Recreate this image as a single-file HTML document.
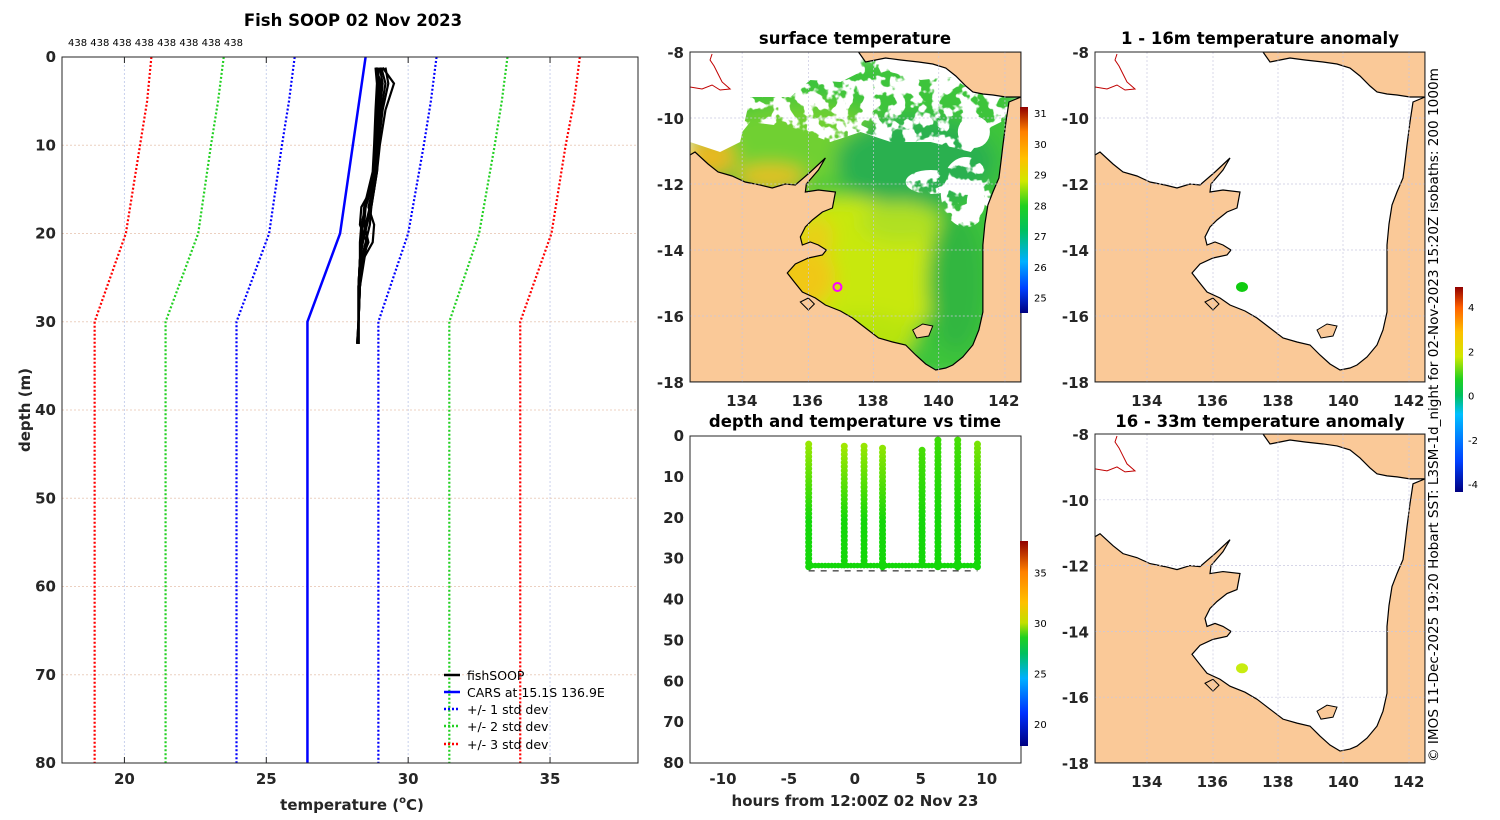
<!DOCTYPE html>
<html><head><meta charset="utf-8">
<style>
body{margin:0;background:#fff;}
svg{display:block;font-family:"DejaVu Sans","Liberation Sans",sans-serif;}
.t{font-weight:bold;font-size:15px;fill:#262626;}
.tt{font-weight:bold;font-size:16.5px;fill:#000;}
.s{font-size:10px;fill:#000;}
.lg{font-size:12.5px;fill:#000;}
</style></head>
<body>
<svg id="fig" width="1500" height="820" viewBox="0 0 1500 820">
<defs>
  <clipPath id="cpL"><rect x="62" y="57" width="576" height="706"/></clipPath>
  <clipPath id="cpM"><rect x="0" y="0" width="330" height="330"/></clipPath>
  <filter id="blur" x="-20%" y="-20%" width="140%" height="140%"><feGaussianBlur stdDeviation="9"/></filter>
  <filter id="clouds" x="0" y="0" width="100%" height="100%" filterUnits="userSpaceOnUse">
    <feTurbulence type="fractalNoise" baseFrequency="0.07" numOctaves="3" seed="5" result="n"/>
    <feColorMatrix in="n" type="matrix" values="0 0 0 0 1  0 0 0 0 1  0 0 0 0 1  -14 0 0 0 7.8" result="w"/>
    <feComposite in="w" in2="SourceGraphic" operator="in"/>
  </filter>
  <linearGradient id="cbT" x1="0" y1="1" x2="0" y2="0">
    <stop offset="0" stop-color="#000080"/><stop offset="0.16" stop-color="#0030ff"/>
    <stop offset="0.33" stop-color="#00b0ff"/><stop offset="0.45" stop-color="#00c060"/>
    <stop offset="0.53" stop-color="#20d020"/><stop offset="0.60" stop-color="#c0e000"/>
    <stop offset="0.70" stop-color="#ffc000"/><stop offset="0.85" stop-color="#ff8000"/>
    <stop offset="1" stop-color="#900000"/>
  </linearGradient>
  <linearGradient id="cbS" x1="0" y1="1" x2="0" y2="0">
    <stop offset="0" stop-color="#000080"/><stop offset="0.12" stop-color="#0040ff"/>
    <stop offset="0.25" stop-color="#00b0ff"/><stop offset="0.4" stop-color="#00c060"/>
    <stop offset="0.52" stop-color="#20d020"/><stop offset="0.64" stop-color="#d0e800"/>
    <stop offset="0.75" stop-color="#ffc000"/><stop offset="0.88" stop-color="#ff8000"/>
    <stop offset="1" stop-color="#900000"/>
  </linearGradient>
  <linearGradient id="cbA" x1="0" y1="1" x2="0" y2="0">
    <stop offset="0" stop-color="#000080"/><stop offset="0.15" stop-color="#0040ff"/>
    <stop offset="0.38" stop-color="#00c0ff"/><stop offset="0.47" stop-color="#00c060"/>
    <stop offset="0.55" stop-color="#20d020"/><stop offset="0.66" stop-color="#d0e800"/>
    <stop offset="0.78" stop-color="#ffc000"/><stop offset="0.9" stop-color="#ff6000"/>
    <stop offset="1" stop-color="#900000"/>
  </linearGradient>
  <g id="land">
    <path fill="#fac998" stroke="#000" stroke-width="1.2" d="M0,103 L5,100 L18,112 L28,120 L42,124 L55,130 L70,133 L82,136 L95,132 L105,133 L120,120 L135,106 L128,118 L116,132 L115,140 L128,138 L145,140 L142,156 L132,160 L122,168 L115,175 L110,185 L112,193 L120,190 L128,193 L136,198 L132,203 L118,206 L105,212 L97,221 L104,230 L112,240 L125,246 L135,253 L150,259 L162,266 L175,276 L188,286 L202,290 L215,293 L222,300 L225,303 L235,312 L245,318 L255,316 L262,313 L272,305 L282,293 L288,278 L292,260 L292,230 L292,193 L294,172 L297,153 L302,140 L308,126 L310,110 L312,93 L315,70 L318,50 L330,45 L330,330 L0,330 Z"/>
    <path fill="#fac998" stroke="#000" stroke-width="1.2" d="M168,0 L175,10 L185,8 L195,6 L210,8 L228,10 L242,12 L255,16 L265,24 L275,34 L282,40 L292,42 L302,43 L315,45 L330,45 L330,0 Z"/>
    <path fill="#fac998" stroke="#000" stroke-width="1" d="M222,278 L232,272 L242,274 L238,284 L226,286 Z"/>
    <path fill="#fac998" stroke="#000" stroke-width="1" d="M110,250 L118,246 L124,252 L118,258 Z"/>
    <path fill="none" stroke="#c00000" stroke-width="1" d="M0,35 L12,37 L22,33 L30,38 L40,37 L32,30 L28,22 L24,14 L20,8 L22,2"/>
  </g>
  <g id="grid">
    <g stroke="#c8c8e0" stroke-width="0.7" stroke-dasharray="2,2">
      <line x1="52" y1="0" x2="52" y2="330"/><line x1="118" y1="0" x2="118" y2="330"/>
      <line x1="183" y1="0" x2="183" y2="330"/><line x1="248" y1="0" x2="248" y2="330"/>
      <line x1="314" y1="0" x2="314" y2="330"/>
      <line x1="0" y1="66" x2="330" y2="66"/><line x1="0" y1="132" x2="330" y2="132"/>
      <line x1="0" y1="198" x2="330" y2="198"/><line x1="0" y1="264" x2="330" y2="264"/>
    </g>
  </g>
</defs>

<!-- ============ LEFT PROFILE ============ -->
<g>
  <text class="tt" x="353" y="26" text-anchor="middle">Fish SOOP 02 Nov 2023</text>
  <text class="s" x="68" y="46">438 438 438 438 438 438 438 438</text>
  <rect x="62" y="57" width="576" height="706" fill="#fff"/>
  <g id="lgrid"></g>
  <g id="lstd" clip-path="url(#cpL)"></g>
  <g id="lfish" clip-path="url(#cpL)"></g>
  <rect x="62" y="57" width="576" height="706" fill="none" stroke="#262626" stroke-width="1"/>
  <g id="lticks" class="t"></g>
  <text class="t" x="352" y="810" text-anchor="middle" font-size="16">temperature (<tspan font-size="10" dy="-7">o</tspan><tspan dy="7">C)</tspan></text>
  <text class="t" x="30" y="410" text-anchor="middle" font-size="16" transform="rotate(-90 30 410)">depth (m)</text>
  <g>
    <g><line x1="444" y1="675" x2="460" y2="675" stroke="#000" stroke-width="2.5"/><text class="lg" x="467" y="680">fishSOOP</text></g>
    <g><line x1="444" y1="692" x2="460" y2="692" stroke="#0000ff" stroke-width="2.5"/><text class="lg" x="467" y="697">CARS at 15.1S 136.9E</text></g>
    <g><line x1="444" y1="709" x2="460" y2="709" stroke="#0000ff" stroke-width="2.5" stroke-dasharray="2,2"/><text class="lg" x="467" y="714">+/- 1 std dev</text></g>
    <g><line x1="444" y1="726" x2="460" y2="726" stroke="#22d022" stroke-width="2.5" stroke-dasharray="2,2"/><text class="lg" x="467" y="731">+/- 2 std dev</text></g>
    <g><line x1="444" y1="744" x2="460" y2="744" stroke="#ff0000" stroke-width="2.5" stroke-dasharray="2,2"/><text class="lg" x="467" y="749">+/- 3 std dev</text></g>
  </g>
</g>

<!-- ============ SST MAP ============ -->
<g>
  <text class="tt" x="855" y="44" text-anchor="middle">surface temperature</text>
  <g transform="translate(690,52) scale(1.003,1)">
    <g clip-path="url(#cpM)">
      <rect width="330" height="330" fill="#fff"/>
      <g filter="url(#blur)">
        <rect x="0" y="0" width="330" height="330" fill="#3cc43a"/>
        <ellipse cx="110" cy="90" rx="90" ry="40" fill="#70d030"/>
        <ellipse cx="150" cy="220" rx="110" ry="75" fill="#c8e810"/>
        <ellipse cx="170" cy="285" rx="55" ry="25" fill="#b8e410"/>
        <ellipse cx="105" cy="225" rx="40" ry="35" fill="#f0c818"/>
        <ellipse cx="125" cy="185" rx="18" ry="20" fill="#e8d018"/>
        <ellipse cx="20" cy="105" rx="25" ry="20" fill="#e8b820"/>
        <ellipse cx="80" cy="125" rx="35" ry="12" fill="#e8c020"/>
        <ellipse cx="225" cy="110" rx="80" ry="45" fill="#2cb050"/>
        <ellipse cx="265" cy="230" rx="28" ry="70" fill="#30b640"/>
        <ellipse cx="210" cy="170" rx="40" ry="20" fill="#b0e020"/>
      </g>
      <g filter="url(#clouds)">
        <path d="M0,0 L330,0 L330,60 L300,75 L280,100 L240,90 L200,90 L170,80 L140,90 L100,75 L60,70 L40,95 L0,90 Z" fill="#000"/>
        <ellipse cx="275" cy="140" rx="25" ry="35" fill="#000"/>
        <ellipse cx="240" cy="130" rx="25" ry="12" fill="#000"/>
      </g>
      <g fill="#fff">
        <path d="M0,0 L170,0 L170,20 L150,30 L120,28 L100,45 L60,45 L50,90 L30,100 L0,90 Z"/>
        <path d="M185,0 L330,0 L330,40 L300,42 L280,38 L260,25 L230,28 L200,20 Z"/>
        <ellipse cx="283" cy="80" rx="16" ry="16"/>
        <ellipse cx="285" cy="150" rx="9" ry="15"/>
      </g>
      <use href="#land"/>
      <use href="#grid"/>
      <circle cx="147" cy="235" r="4" fill="none" stroke="#ff00ff" stroke-width="2"/>
    </g>
    <rect width="330" height="330" fill="none" stroke="#262626"/>
  </g>
  <rect x="1020" y="107" width="8" height="206" fill="url(#cbS)"/>
  <g id="cbSticks" class="s" font-size="12.5"></g>
  <g id="mapTicks1" class="t"></g>
</g>

<!-- ============ ANOMALY MAP 1 ============ -->
<g>
  <text class="tt" x="1260" y="44" text-anchor="middle">1 - 16m temperature anomaly</text>
  <g transform="translate(1095,52)">
    <g clip-path="url(#cpM)"><rect width="330" height="330" fill="#fff"/><use href="#land"/><use href="#grid"/>
      <ellipse cx="147" cy="235" rx="6" ry="5" fill="#10cc10"/></g>
    <rect width="330" height="330" fill="none" stroke="#262626"/>
  </g>
  <g id="mapTicks2" class="t"></g>
</g>

<!-- ============ ANOMALY MAP 2 ============ -->
<g>
  <text class="tt" x="1260" y="427" text-anchor="middle">16 - 33m temperature anomaly</text>
  <g transform="translate(1095,434) scale(1,0.997)">
    <g clip-path="url(#cpM)"><rect width="330" height="330" fill="#fff"/><use href="#land"/><use href="#grid"/>
      <ellipse cx="147" cy="235" rx="6" ry="5" fill="#c8ec10"/></g>
    <rect width="330" height="330" fill="none" stroke="#262626"/>
  </g>
  <g id="mapTicks3" class="t"></g>
  <rect x="1455" y="287" width="8" height="205" fill="url(#cbA)"/>
  <g id="cbAticks" class="s" font-size="12.5"></g>
  <text x="1438" y="762" font-size="13.6" transform="rotate(-90 1438 762)">© IMOS 11-Dec-2025 19:20 Hobart SST: L3SM-1d_night for 02-Nov-2023 15:20Z isobaths: 200  1000m</text>
</g>

<!-- ============ TIME SERIES ============ -->
<g>
  <text class="tt" x="855" y="427" text-anchor="middle">depth and temperature vs time</text>
  <rect x="690" y="436" width="331" height="327" fill="#fff" stroke="#262626"/>
  <g id="tsdots"></g>
  <g id="tsticks" class="t"></g>
  <text class="t" x="855" y="806" text-anchor="middle" font-size="16">hours from 12:00Z 02 Nov 23</text>
  <rect x="1020" y="541" width="8" height="205" fill="url(#cbT)"/>
  <g id="cbTticks" class="s" font-size="12.5"></g>
</g>
</svg>

<script>
// ---------- data ----------
const xTicks = [20, 25, 30, 35];
const yTicks = [0, 10, 20, 30, 40, 50, 60, 70, 80];
const carsDepth = [0, 20, 30, 80];
const carsTemp  = [28.5, 27.6, 26.45, 26.45];
const stdDepth = [0, 5, 10, 20, 30, 80];
const std1Lo = [26.0, 25.8, 25.55, 25.1, 23.95, 23.95];
const std1Hi = [31.0, 30.8, 30.55, 30.0, 28.95, 28.95];
const std2Lo = [23.5, 23.3, 23.05, 22.6, 21.45, 21.45];
const std2Hi = [33.5, 33.3, 33.05, 32.5, 31.45, 31.45];
const std3Lo = [20.95, 20.8, 20.55, 20.05, 18.95, 18.95];
const std3Hi = [36.05, 35.85, 35.55, 35.05, 33.95, 33.95];
const fishDepth = [1.2, 3, 6, 10, 13, 15, 17, 19, 21, 23, 26, 30, 32.5];
const fishCasts = [
  [28.95, 28.95, 28.9, 28.85, 28.8, 28.7, 28.5, 28.35, 28.3, 28.3, 28.25, 28.25, 28.25],
  [29.0, 29.1, 29.0, 28.9, 28.85, 28.8, 28.7, 28.55, 28.4, 28.3, 28.25, 28.25, 28.2],
  [29.2, 29.3, 29.1, 28.95, 28.9, 28.8, 28.65, 28.5, 28.4, 28.3, 28.25, 28.25, 28.2],
  [28.85, 29.05, 29.0, 28.9, 28.85, 28.7, 28.35, 28.3, 28.55, 28.45, 28.3, 28.25, 28.25],
  [29.1, 29.5, 29.2, 29.0, 28.9, 28.8, 28.7, 28.65, 28.5, 28.35, 28.3, 28.25, 28.25],
  [28.85, 28.9, 28.85, 28.8, 28.75, 28.6, 28.45, 28.4, 28.35, 28.3, 28.25, 28.25, 28.25],
  [29.05, 29.2, 29.05, 28.95, 28.9, 28.75, 28.6, 28.8, 28.75, 28.4, 28.3, 28.25, 28.25],
  [28.9, 29.0, 28.95, 28.9, 28.8, 28.65, 28.5, 28.45, 28.6, 28.35, 28.3, 28.25, 28.25]
];
const castHours = [-3.5, -0.8, 0.7, 2.1, 5.1, 6.3, 7.8, 9.3];
const castTop = [2, 2.5, 2.5, 3, 3.5, 1, 1, 2];
const castBottom = [32, 32, 32, 32, 32, 32, 32, 32];
const surfTemp = [29.6, 29.7, 29.6, 29.5, 28.8, 28.7, 28.8, 29.3];
const bottomTemp = [28.3, 28.3, 28.3, 28.3, 28.3, 28.3, 28.3, 28.3];
const hourTicks = [-10, -5, 0, 5, 10];
const tsDepthTicks = [0, 10, 20, 30, 40, 50, 60, 70, 80];
const cbTempTicks = [20, 25, 30, 35];
const cbSstTicks = [25, 26, 27, 28, 29, 30, 31];
const cbAnomTicks = [-4, -2, 0, 2, 4];
const lonTicks = [134, 136, 138, 140, 142];
const latTicks = [-8, -10, -12, -14, -16, -18];

// ---------- helpers ----------
const NS = 'http://www.w3.org/2000/svg';
function mk(tag, attrs, parent) {
  const e = document.createElementNS(NS, tag);
  for (const k in attrs) e.setAttribute(k, attrs[k]);
  parent.appendChild(e); return e;
}
const X = t => 62 + (t - 17.8) / (38.1 - 17.8) * 576;
const Y = d => 57 + d / 80 * 706;
const HX = h => 690 + (h + 12.5) / 25.1 * 331;
const HY = d => 436 + d / 80 * 327;
function tcol(t) {
  const st = [[17.8,[0,0,128]],[21,[0,48,255]],[24.5,[0,176,255]],[27,[0,192,96]],[28.3,[20,215,10]],[30,[192,235,0]],[32,[255,192,0]],[35,[255,128,0]],[38.1,[144,0,0]]];
  for (let i = 1; i < st.length; i++) if (t <= st[i][0]) {
    const f = (t - st[i-1][0]) / (st[i][0] - st[i-1][0]);
    const c = st[i-1][1].map((v, j) => Math.round(v + f * (st[i][1][j] - v)));
    return 'rgb(' + c.join(',') + ')';
  }
  return 'rgb(144,0,0)';
}

// ---------- left plot ----------
const lg = document.getElementById('lgrid');
xTicks.forEach(t => { const l = mk('line', {x1: X(t), x2: X(t), y1: 57, y2: 763, stroke: '#c8d0ec', 'stroke-dasharray': '2,2'}, lg);
    });
yTicks.forEach(d => { const l = mk('line', {x1: 62, x2: 638, y1: Y(d), y2: Y(d), stroke: '#ecd0c0', 'stroke-dasharray': '2,2'}, lg);
    });

const ls = document.getElementById('lstd');
function line(g, ts, ds, col, dash, w, name) {
  const p = mk('polyline', {points: ts.map((t, i) => X(t) + ',' + Y(ds[i])).join(' '), fill: 'none', stroke: col, 'stroke-width': w}, g);
  if (dash) p.setAttribute('stroke-dasharray', dash);
  
  
}
line(ls, std3Lo, stdDepth, '#ff0000', '2,2', 2.2, 'std3-low');
line(ls, std3Hi, stdDepth, '#ff0000', '2,2', 2.2, 'std3-high');
line(ls, std2Lo, stdDepth, '#22d022', '2,2', 2.2, 'std2-low');
line(ls, std2Hi, stdDepth, '#22d022', '2,2', 2.2, 'std2-high');
line(ls, std1Lo, stdDepth, '#0000ff', '2,2', 2.2, 'std1-low');
line(ls, std1Hi, stdDepth, '#0000ff', '2,2', 2.2, 'std1-high');
line(ls, carsTemp, carsDepth, '#0000ff', null, 2.5, 'cars-climatology');
const lf = document.getElementById('lfish');
fishCasts.forEach(c => line(lf, c, fishDepth, '#000', null, 2.2, 'fish-profile'));

const lt = document.getElementById('lticks');
xTicks.forEach(t => {
  const e = mk('text', {x: X(t), y: 784, 'text-anchor': 'middle'}, lt); e.textContent = t;
   
  mk('line', {x1: X(t), x2: X(t), y1: 57, y2: 63, stroke: '#262626'}, lt);
  mk('line', {x1: X(t), x2: X(t), y1: 763, y2: 757, stroke: '#262626'}, lt);
});
yTicks.forEach(d => {
  const e = mk('text', {x: 56, y: Y(d) + 5, 'text-anchor': 'end'}, lt); e.textContent = d;
   
});

// ---------- time series ----------
const td = document.getElementById('tsdots');
castHours.forEach((h, i) => {
  for (let d = castTop[i]; d <= castBottom[i]; d += 1) {
    const f = (d - castTop[i]) / (castBottom[i] - castTop[i]);
    const t = surfTemp[i] + (bottomTemp[i] - surfTemp[i]) * Math.min(1, f * 1.6);
    const c = mk('circle', {cx: HX(h), cy: HY(d), r: 3.5, fill: tcol(t)}, td);
    
    
  }
  if (i < castHours.length - 1) {
    for (let hh = h; hh < castHours[i + 1]; hh += 0.25) {
      const c = mk('circle', {cx: HX(hh), cy: HY(castBottom[i] - 0.3), r: 2.8, fill: tcol(bottomTemp[i])}, td);
      
      
    }
  }
});
mk('line', {x1: HX(castHours[0]), x2: HX(castHours[castHours.length - 1]), y1: HY(33), y2: HY(33), stroke: '#000', 'stroke-dasharray': '6,6', 'stroke-width': 1}, td);
const tt = document.getElementById('tsticks');
hourTicks.forEach(h => { const e = mk('text', {x: HX(h), y: 784, 'text-anchor': 'middle'}, tt); e.textContent = h;
    });
tsDepthTicks.forEach(d => { const e = mk('text', {x: 684, y: HY(d) + 5, 'text-anchor': 'end'}, tt); e.textContent = d;
    });

// ---------- colorbar ticks ----------
function cbt(id, ticks, y0, y1, v0, v1, x) {
  const g = document.getElementById(id);
  ticks.forEach(v => {
    const y = y1 + (v - v0) / (v1 - v0) * (y0 - y1);
    const e = mk('text', {x: x, y: y + 4}, g); e.textContent = v;
     
  });
}
cbt('cbTticks', cbTempTicks, 541, 746, 17.8, 38.1, 1034);
cbt('cbSticks', cbSstTicks, 107, 313, 24.5, 31.2, 1034);
cbt('cbAticks', cbAnomTicks, 287, 492, -4.35, 4.9, 1468);

// ---------- map ticks ----------
function mapTicks(id, x0, y0, h) {
  const g = document.getElementById(id);
  lonTicks.forEach(l => { const e = mk('text', {x: x0 + (l - 132.42) * 32.75, y: y0 + h + 24, 'text-anchor': 'middle'}, g); e.textContent = l;
      });
  latTicks.forEach(l => { const e = mk('text', {x: x0 - 6, y: y0 + (-8 - l) * h / 10 + 6, 'text-anchor': 'end'}, g); e.textContent = l;
      });
}
mapTicks('mapTicks1', 690, 52, 330);
mapTicks('mapTicks2', 1095, 52, 330);
mapTicks('mapTicks3', 1095, 434, 329);
</script>
</body></html>
